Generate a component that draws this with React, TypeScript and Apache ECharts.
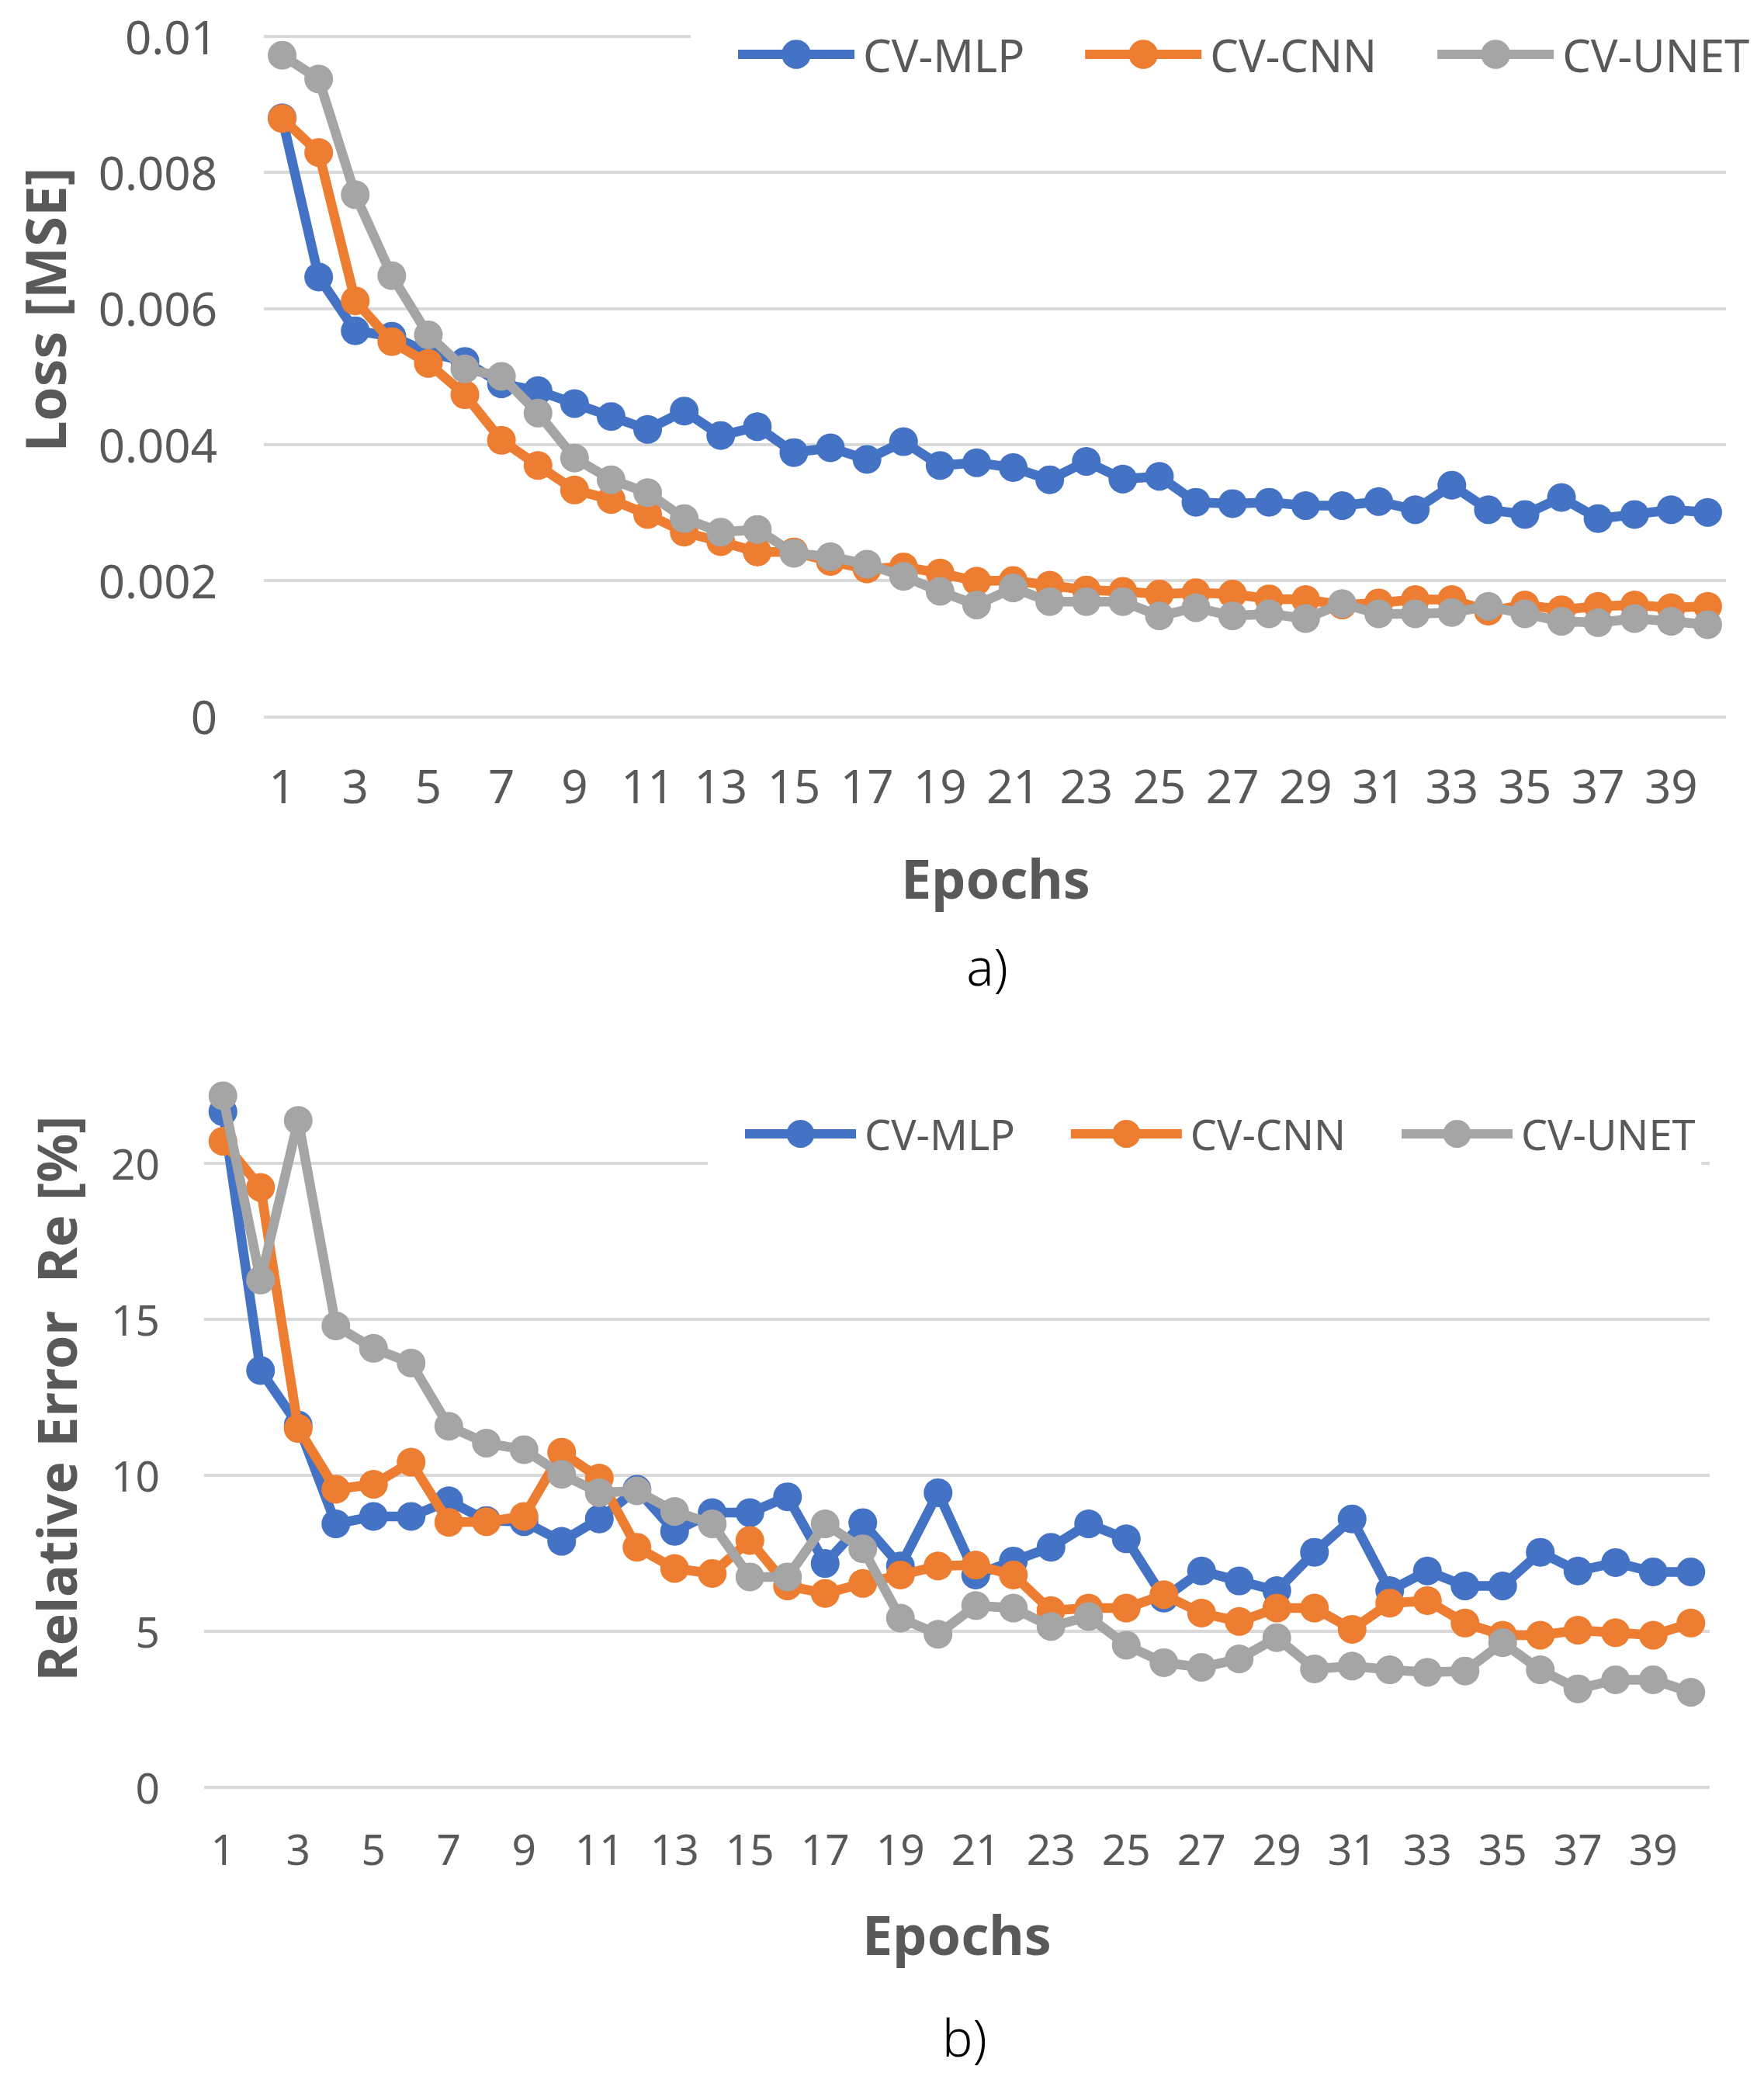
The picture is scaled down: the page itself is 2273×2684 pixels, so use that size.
import React, { useEffect, useRef } from "react";
import * as echarts from "echarts";

const epochs = [
  "1", "2", "3", "4", "5", "6", "7", "8", "9", "10",
  "11", "12", "13", "14", "15", "16", "17", "18", "19", "20",
  "21", "22", "23", "24", "25", "26", "27", "28", "29", "30",
  "31", "32", "33", "34", "35", "36", "37", "38", "39", "40",
];

const seriesNames = ["CV-MLP", "CV-CNN", "CV-UNET"];

const lossMLP = [
  0.0088, 0.00646, 0.00567, 0.00559, 0.00535, 0.00522, 0.00489, 0.00479, 0.0046, 0.00441,
  0.00422, 0.00449, 0.00413, 0.00426, 0.00388, 0.00395, 0.00378, 0.00404, 0.00369, 0.00373,
  0.00366, 0.00348, 0.00375, 0.00349, 0.00353, 0.00315, 0.00313, 0.00315, 0.0031, 0.0031,
  0.00316, 0.00304, 0.0034, 0.00304, 0.00297, 0.00322, 0.00291, 0.00297, 0.00304, 0.003,
];
const lossCNN = [
  0.00879, 0.00829, 0.00611, 0.00551, 0.00519, 0.00473, 0.00406, 0.00369, 0.00333, 0.00319,
  0.00297, 0.00271, 0.00257, 0.00242, 0.00242, 0.00228, 0.00217, 0.0022, 0.00211, 0.00199,
  0.002, 0.00193, 0.00186, 0.00184, 0.0018, 0.00182, 0.0018, 0.00173, 0.00172, 0.00164,
  0.00167, 0.00172, 0.00172, 0.00155, 0.00164, 0.00157, 0.00162, 0.00164, 0.0016, 0.00162,
];
const lossUNET = [
  0.00972, 0.00937, 0.00767, 0.00648, 0.00561, 0.00511, 0.005, 0.00446, 0.0038, 0.00348,
  0.00329, 0.00291, 0.00271, 0.00275, 0.0024, 0.00235, 0.00224, 0.00206, 0.00184, 0.00164,
  0.00189, 0.00169, 0.00169, 0.00169, 0.00148, 0.0016, 0.00148, 0.00151, 0.00144, 0.00166,
  0.00151, 0.00151, 0.00153, 0.00162, 0.00151, 0.0014, 0.00138, 0.00144, 0.0014, 0.00135,
];

const reMLP = [
  21.65, 13.35, 11.6, 8.43, 8.67, 8.67, 9.17, 8.54, 8.5, 7.87,
  8.59, 9.54, 8.19, 8.79, 8.79, 9.3, 7.16, 8.47, 7.08, 9.43,
  6.79, 7.24, 7.68, 8.43, 7.95, 6.05, 6.92, 6.6, 6.29, 7.52,
  8.59, 6.29, 6.92, 6.44, 6.44, 7.52, 6.92, 7.19, 6.89, 6.89,
];
const reCNN = [
  20.7, 19.22, 11.49, 9.54, 9.7, 10.41, 8.48, 8.5, 8.67, 10.73,
  9.9, 7.68, 7.0, 6.84, 7.9, 6.44, 6.2, 6.52, 6.79, 7.08,
  7.11, 6.79, 5.65, 5.73, 5.73, 6.16, 5.57, 5.3, 5.73, 5.73,
  5.05, 5.89, 5.97, 5.25, 4.86, 4.86, 5.02, 4.94, 4.86, 5.25,
];
const reUNET = [
  22.16, 16.25, 21.37, 14.78, 14.06, 13.59, 11.56, 11.02, 10.81, 10.02,
  9.43, 9.49, 8.83, 8.43, 6.73, 6.73, 8.43, 7.63, 5.41, 4.89,
  5.81, 5.73, 5.14, 5.46, 4.54, 3.98, 3.83, 4.1, 4.78, 3.78,
  3.87, 3.75, 3.67, 3.71, 4.62, 3.75, 3.14, 3.43, 3.43, 3.03,
];

const FONT = "'Noto Sans', 'Open Sans', sans-serif";
const TXT = "#595959";
const GRIDC = "#D9D9D9";
const COLORS = ["#4472C4", "#ED7D31", "#A5A5A5"];

function makeSeries(name: string, data: number[], idx: number, axis: number) {
  const color = COLORS[idx];
  return {
    type: "line",
    name,
    data,
    xAxisIndex: axis,
    yAxisIndex: axis,
    symbol: "circle",
    symbolSize: 37,
    showAllSymbol: true,
    z: 2 + idx,
    lineStyle: { width: 12.5, color },
    itemStyle: { color },
    emphasis: { disabled: true },
    silent: true,
  };
}

export default function App() {
  const ref = useRef<HTMLDivElement>(null);

  useEffect(() => {
    if (!ref.current) return;
    const chart = echarts.init(ref.current, undefined, { renderer: "svg" });

    const option: any = {
      animation: false,
      backgroundColor: "#ffffff",
      textStyle: { fontFamily: FONT },
      grid: [
        { left: 340, right: 49, top: 46.6, bottom: 2684 - 923.3 },
        { left: 263, right: 70, top: 1297.8, bottom: 2684 - 2302.3 },
      ],
      xAxis: [0, 1].map((i) => ({
        type: "category",
        gridIndex: i,
        data: epochs,
        boundaryGap: true,
        axisLine: { show: false },
        axisTick: { show: false },
        splitLine: { show: false },
        axisLabel: {
          interval: 1,
          color: TXT,
          fontFamily: FONT,
          fontSize: i ? 55 : 60,
          lineHeight: i ? 55 : 60,
          margin: i ? 52 : 59,
        },
      })),
      yAxis: [
        {
          type: "value",
          gridIndex: 0,
          min: 0,
          max: 0.01,
          interval: 0.002,
          axisLine: { show: false },
          axisTick: { show: false },
          axisLabel: {
            color: TXT,
            fontFamily: FONT,
            fontSize: 60,
            margin: 60,
            formatter: (v: number) => String(Number(v.toFixed(4))),
          },
          splitLine: { lineStyle: { color: GRIDC, width: 4 } },
        },
        {
          type: "value",
          gridIndex: 1,
          min: 0,
          max: 25,
          interval: 5,
          axisLine: { show: false },
          axisTick: { show: false },
          axisLabel: {
            color: TXT,
            fontFamily: FONT,
            fontSize: 55,
            margin: 57,
            showMaxLabel: false,
          },
          splitLine: { showMaxLine: false, lineStyle: { color: GRIDC, width: 4 } },
        },
      ],
      legend: [
        {
          data: seriesNames,
          left: 890,
          top: 31,
          width: 1370,
          orient: "horizontal",
          padding: [10, 10, 10, 55],
          backgroundColor: "#ffffff",
          itemWidth: 150,
          itemHeight: 47,
          itemGap: 72,
          selectedMode: false,
          lineStyle: { width: 12 },
          textStyle: { color: TXT, fontFamily: FONT, fontSize: 58, lineHeight: 58, padding: [0, 0, 0, 6] },
        },
        {
          data: seriesNames,
          left: 912,
          top: 1416,
          width: 1300,
          orient: "horizontal",
          padding: [18, 8, 18, 42],
          backgroundColor: "#ffffff",
          itemWidth: 143,
          itemHeight: 45,
          itemGap: 66,
          selectedMode: false,
          lineStyle: { width: 12 },
          textStyle: { color: TXT, fontFamily: FONT, fontSize: 54, lineHeight: 54, padding: [0, 0, 0, 6] },
        },
      ],
      graphic: [
        {
          type: "text",
          x: 57,
          y: 399,
          rotation: Math.PI / 2,
          style: { text: "Loss [MSE]", fill: TXT, fontFamily: FONT, fontSize: 71, fontWeight: "bold", align: "center", verticalAlign: "middle" },
        },
        {
          type: "text",
          x: 1283,
          y: 1131,
          style: { text: "Epochs", fill: TXT, fontFamily: FONT, fontSize: 70, fontWeight: "bold", align: "center", verticalAlign: "middle" },
        },
        {
          type: "text",
          x: 1272,
          y: 1244,
          style: { text: "a)", fill: "#000000", fontFamily: FONT, fontSize: 66, fontWeight: 300, align: "center", verticalAlign: "middle" },
        },
        {
          type: "text",
          x: 71.5,
          y: 1802,
          rotation: Math.PI / 2,
          style: { text: "Relative Error  Re [%]", fill: TXT, fontFamily: FONT, fontSize: 70, fontWeight: "bold", align: "center", verticalAlign: "middle" },
        },
        {
          type: "text",
          x: 1233,
          y: 2492,
          style: { text: "Epochs", fill: TXT, fontFamily: FONT, fontSize: 70, fontWeight: "bold", align: "center", verticalAlign: "middle" },
        },
        {
          type: "text",
          x: 1243,
          y: 2624,
          style: { text: "b)", fill: "#000000", fontFamily: FONT, fontSize: 66, fontWeight: 300, align: "center", verticalAlign: "middle" },
        },
      ],
      series: [
        makeSeries(seriesNames[0], lossMLP, 0, 0),
        makeSeries(seriesNames[1], lossCNN, 1, 0),
        makeSeries(seriesNames[2], lossUNET, 2, 0),
        makeSeries(seriesNames[0], reMLP, 0, 1),
        makeSeries(seriesNames[1], reCNN, 1, 1),
        makeSeries(seriesNames[2], reUNET, 2, 1),
      ],
    };

    chart.setOption(option);
    return () => {
      chart.dispose();
    };
  }, []);

  return (
    <div
      ref={ref}
      style={{ position: "absolute", left: 0, top: 0, width: 2273, height: 2684, background: "#ffffff" }}
    />
  );
}
